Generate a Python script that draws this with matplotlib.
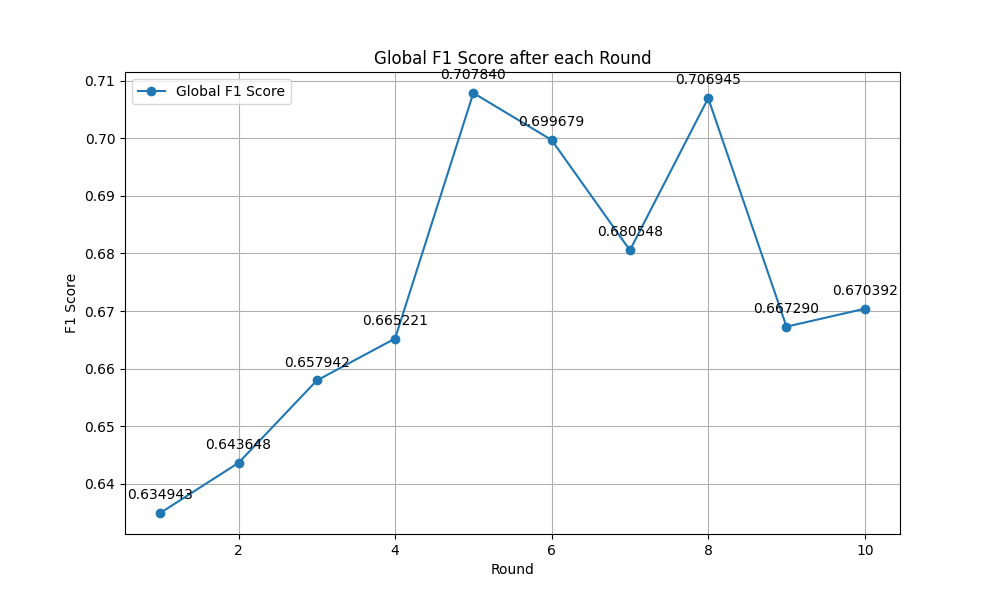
import matplotlib
matplotlib.use('Agg')
import matplotlib.pyplot as plt

rounds = [1, 2, 3, 4, 5, 6, 7, 8, 9, 10]
f1_scores = [0.634943, 0.643648, 0.657942, 0.665221, 0.707840,
             0.699679, 0.680548, 0.706945, 0.667290, 0.670392]

plt.figure(figsize=(10, 6))
plt.plot(rounds, f1_scores, marker='o', label='Global F1 Score')
for r, s in zip(rounds, f1_scores):
    plt.annotate(f'{s:.6f}', (r, s), textcoords='offset points',
                 xytext=(0, 10), ha='center')
plt.title('Global F1 Score after each Round')
plt.xlabel('Round')
plt.ylabel('F1 Score')
plt.grid(True)
plt.legend()
plt.savefig('out.png')
plt.close()
